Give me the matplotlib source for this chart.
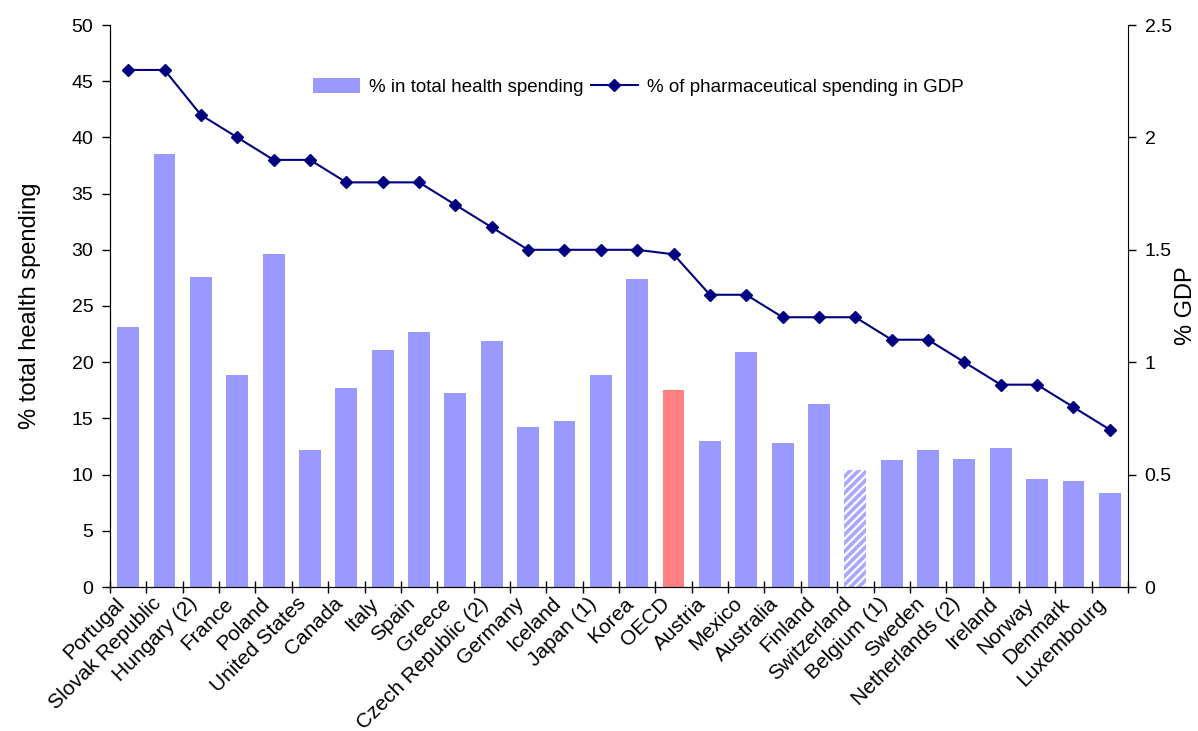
import matplotlib
matplotlib.use("Agg")
import matplotlib.pyplot as plt
import numpy as np
from matplotlib.patches import Patch
from matplotlib.lines import Line2D

countries = ["Portugal", "Slovak Republic", "Hungary (2)", "France", "Poland",
             "United States", "Canada", "Italy", "Spain", "Greece",
             "Czech Republic (2)", "Germany", "Iceland", "Japan (1)", "Korea",
             "OECD", "Austria", "Mexico", "Australia", "Finland", "Switzerland",
             "Belgium (1)", "Sweden", "Netherlands (2)", "Ireland", "Norway",
             "Denmark", "Luxembourg"]
share_health = [23.1, 38.5, 27.6, 18.9, 29.6, 12.2, 17.7, 21.1, 22.7, 17.3,
                21.9, 14.2, 14.8, 18.9, 27.4, 17.5, 13.0, 20.9, 12.8, 16.3,
                10.4, 11.3, 12.2, 11.4, 12.4, 9.6, 9.4, 8.4]
share_gdp = [2.3, 2.3, 2.1, 2.0, 1.9, 1.9, 1.8, 1.8, 1.8, 1.7,
             1.6, 1.5, 1.5, 1.5, 1.5, 1.48, 1.3, 1.3, 1.2, 1.2,
             1.2, 1.1, 1.1, 1.0, 0.9, 0.9, 0.8, 0.7]
left_ticks = [0, 5, 10, 15, 20, 25, 30, 35, 40, 45, 50]
right_ticks = [0, 0.5, 1, 1.5, 2, 2.5]
right_ticklabels = ["0", "0.5", "1", "1.5", "2", "2.5"]

plt.rcParams['font.family'] = ['Liberation Sans', 'DejaVu Sans']
plt.rcParams['hatch.linewidth'] = 1.6

BAR = '#9999FF'
OECD_C = '#FF8080'
LINE = '#000080'

fig = plt.figure(figsize=(11.98, 7.31), dpi=100)
ax = fig.add_axes([110/1198, 1-587/731, (1128-110)/1198, (587-25)/731])
x = np.arange(len(countries))

colors = [BAR] * len(countries)
colors[countries.index("OECD")] = OECD_C
bars = ax.bar(x, share_health, width=0.6, color=colors, linewidth=0, zorder=2)
sw = bars[countries.index("Switzerland")]
sw.set_facecolor('#A8A8FF')
sw.set_edgecolor('white')
sw.set_hatch('////')
sw.set_linewidth(0)

ax.set_xlim(-0.5, len(countries) - 0.5)
ax.set_ylim(0, 50)
ax.set_yticks(left_ticks)
ax.set_xticks(np.arange(len(countries) + 1) - 0.5)
ax.set_xticklabels([])
ax.set_xticks(x, minor=True)
ax.set_xticklabels(countries, minor=True, rotation=45, ha='right', va='top',
                   fontsize=15, rotation_mode='default')
ax.tick_params(axis='x', which='major', direction='inout', length=9, width=1)
ax.tick_params(axis='x', which='minor', length=0, pad=5)
ax.tick_params(axis='y', direction='out', length=6, width=1, labelsize=14, pad=6)
ax.spines['top'].set_visible(False)
ax.spines['right'].set_visible(False)
ax.set_ylabel('% total health spending', fontsize=17, labelpad=22)

ax2 = ax.twinx()
ax2.plot(x, share_gdp, color=LINE, lw=1.5, marker='D', markersize=6.5,
         markeredgecolor=LINE, markerfacecolor=LINE)
ax2.set_ylim(0, 2.5)
ax2.set_yticks(right_ticks)
ax2.set_yticklabels(right_ticklabels)
ax2.tick_params(axis='y', direction='out', length=6, width=1, labelsize=14, pad=6)
ax2.spines['top'].set_visible(False)
fig.text(1186/1198, 1 - 306/731, '% GDP', rotation=90, ha='center', va='center',
         fontsize=17)

handles = [Patch(facecolor=BAR, edgecolor='none'),
           Line2D([0], [0], color=LINE, lw=1.5, marker='D', markersize=6.5)]
ax2.legend(handles, ['% in total health spending', '% of pharmaceutical spending in GDP'],
           loc='center', bbox_to_anchor=(0.519, 0.89), ncol=2, frameon=False,
           fontsize=13.5, handlelength=2.5, handleheight=0.9, columnspacing=0.4,
           handletextpad=0.5)

fig.savefig('out.png', dpi=100)
